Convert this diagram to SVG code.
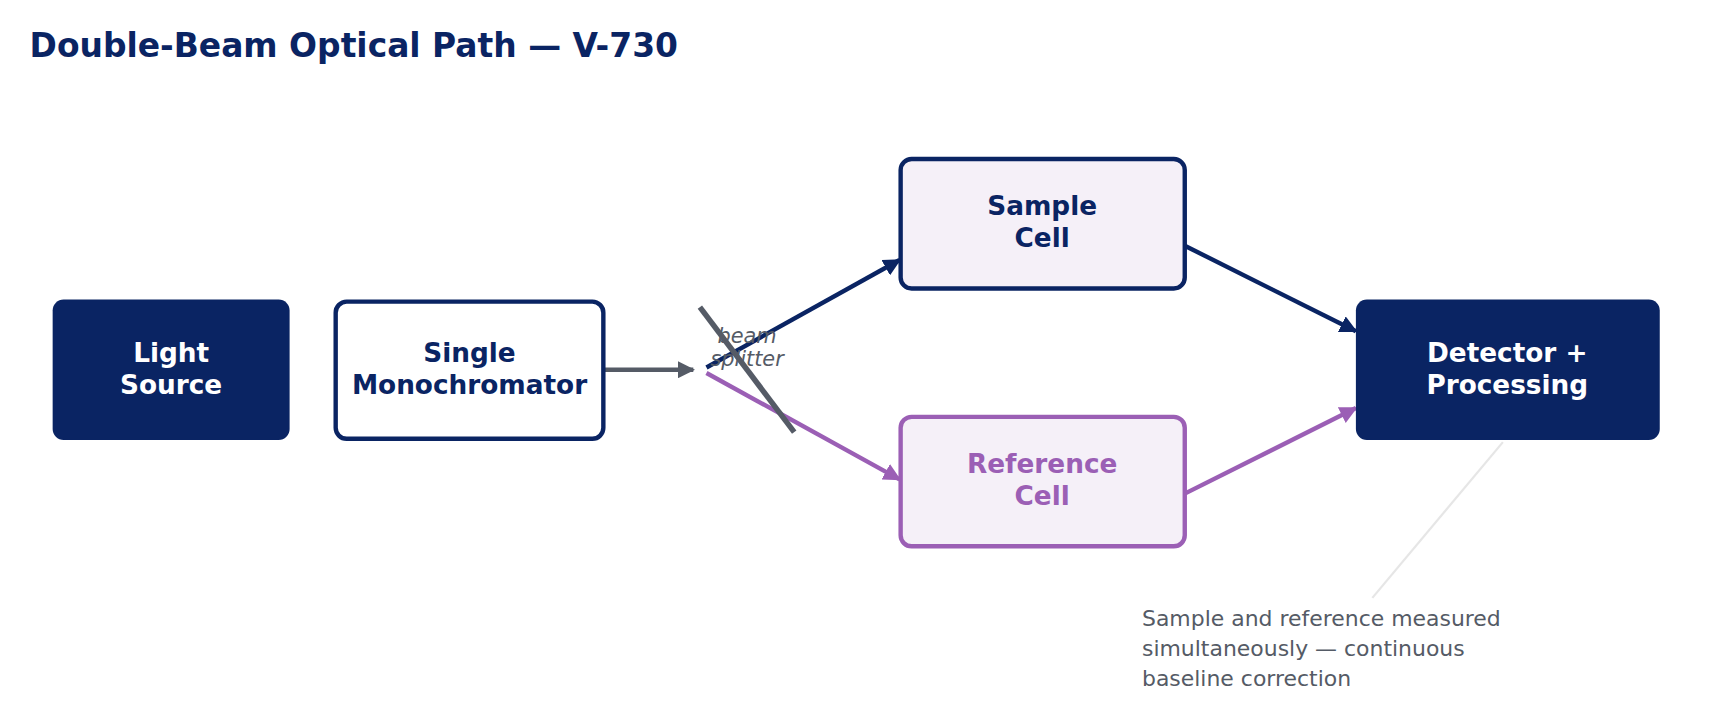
<svg xmlns="http://www.w3.org/2000/svg" width="1720" height="720" viewBox="0 0 1720 720">
<style>
text{font-family:"DejaVu Sans","Noto Sans",sans-serif}
.t{font-weight:bold;font-size:24px;text-anchor:middle}
.w{fill:#fff}.n{fill:#0a2463}.p{fill:#9b5fb5}
</style>
<defs>
<marker id="an" viewBox="0 0 10 10" refX="9" refY="5" markerWidth="4" markerHeight="4" orient="auto" markerUnits="strokeWidth"><path d="M0,0L10,5L0,10z" fill="#0a2463"/></marker>
<marker id="ap" viewBox="0 0 10 10" refX="9" refY="5" markerWidth="4" markerHeight="4" orient="auto" markerUnits="strokeWidth"><path d="M0,0L10,5L0,10z" fill="#9b5fb5"/></marker>
<marker id="ag" viewBox="0 0 10 10" refX="9" refY="5" markerWidth="4" markerHeight="4" orient="auto" markerUnits="strokeWidth"><path d="M0,0L10,5L0,10z" fill="#555b66"/></marker>
</defs>
<rect width="1720" height="720" fill="#fff"/>
<g transform="scale(1.097)">
<text x="27" y="52" font-size="30" font-weight="bold" class="n">Double-Beam Optical Path — V-730</text>
<g id="connectors" fill="none" stroke-width="4">
<line x1="550" y1="337" x2="632" y2="337" stroke="#555b66" marker-end="url(#ag)"/>
<line x1="644" y1="335" x2="820" y2="237" stroke="#0a2463" marker-end="url(#an)"/>
<line x1="644" y1="340" x2="820" y2="437" stroke="#9b5fb5" marker-end="url(#ap)"/>
<line x1="1080" y1="224" x2="1236" y2="302" stroke="#0a2463" marker-end="url(#an)"/>
<line x1="1080" y1="450" x2="1236" y2="372" stroke="#9b5fb5" marker-end="url(#ap)"/>
<line x1="1370" y1="403" x2="1251" y2="545" stroke="#e6e6e6" stroke-width="2"/>
</g>
<g id="splitter">
<line x1="638" y1="280" x2="724" y2="394" stroke="#555b66" stroke-width="5"/>
<text x="681" y="313" font-size="19" font-style="italic" fill="#555b66" text-anchor="middle">beam</text>
<text x="681" y="334" font-size="19" font-style="italic" fill="#555b66" text-anchor="middle">splitter</text>
</g>
<g id="light">
<rect x="48" y="273" width="216" height="128" rx="10" fill="#0a2463"/>
<text class="t w" x="156" y="330">Light</text><text class="t w" x="156" y="359">Source</text>
</g>
<g id="mono">
<rect x="306" y="275" width="244" height="125" rx="10" fill="#fff" stroke="#0a2463" stroke-width="4"/>
<text class="t n" x="428" y="330">Single</text><text class="t n" x="428" y="359">Monochromator</text>
</g>
<g id="sample">
<rect x="821" y="145" width="259" height="118" rx="10" fill="#f5f0f8" stroke="#0a2463" stroke-width="4"/>
<text class="t n" x="950" y="196">Sample</text><text class="t n" x="950" y="225">Cell</text>
</g>
<g id="reference">
<rect x="821" y="380" width="259" height="118" rx="10" fill="#f5f0f8" stroke="#9b5fb5" stroke-width="4"/>
<text class="t p" x="950" y="431">Reference</text><text class="t p" x="950" y="460">Cell</text>
</g>
<g id="detector">
<rect x="1236" y="273" width="277" height="128" rx="10" fill="#0a2463"/>
<text class="t w" x="1374" y="330">Detector +</text><text class="t w" x="1374" y="359">Processing</text>
</g>
<g id="note" font-size="20" fill="#555b66">
<text x="1041" y="571">Sample and reference measured</text>
<text x="1041" y="598">simultaneously — continuous</text>
<text x="1041" y="625">baseline correction</text>
</g>
</g>
</svg>
